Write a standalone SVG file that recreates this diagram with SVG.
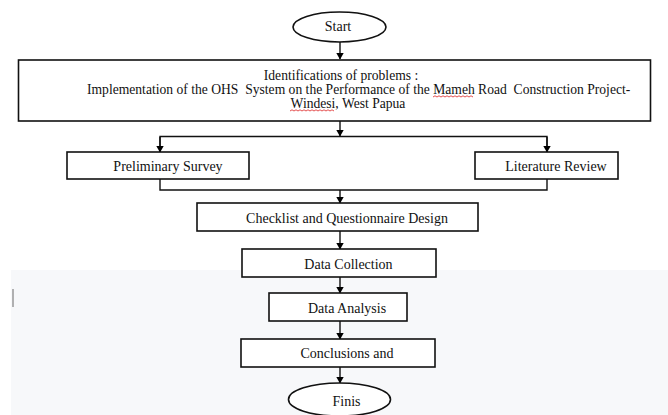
<svg xmlns="http://www.w3.org/2000/svg" width="668" height="415" viewBox="0 0 668 415">
<defs>
<marker id="ah" markerWidth="7" markerHeight="8" refX="6.5" refY="4" orient="auto" markerUnits="userSpaceOnUse">
<path d="M0,0 L7,4 L0,8 Z" fill="#000"/>
</marker>
<style>
.box{fill:#fff;stroke:#111;stroke-width:1.6}
.t{font-family:"Liberation Serif","Times New Roman",serif;font-size:14px;fill:#111;text-anchor:middle}
.t13{font-family:"Liberation Serif","Times New Roman",serif;font-size:13.6px;fill:#111;text-anchor:middle}
.c{fill:none;stroke:#111;stroke-width:1.4}
.ca{fill:none;stroke:#111;stroke-width:1.4;marker-end:url(#ah)}
.sp{fill:none;stroke:#d22;stroke-width:0.8}
</style>
</defs>
<rect width="668" height="415" fill="#fff"/>
<rect x="11" y="270" width="657" height="145" fill="#f7f8fa"/>
<line x1="13" y1="289" x2="13" y2="307" stroke="#999" stroke-width="1.5"/>

<g id="connectors">
<line class="ca" x1="340" y1="42" x2="340" y2="59"/>
<line class="ca" x1="340" y1="121" x2="340" y2="136"/>
<polyline class="c" points="160,152 160,136.5 547,136.5 547,152"/>
<line class="ca" x1="160" y1="137" x2="160" y2="152"/>
<line class="ca" x1="547" y1="137" x2="547" y2="152"/>
<polyline class="c" points="160,179 160,190 547,190 547,179"/>
<line class="ca" x1="340" y1="190" x2="340" y2="203"/>
<line class="ca" x1="340" y1="231" x2="340" y2="249"/>
<line class="ca" x1="340" y1="277" x2="340" y2="293"/>
<line class="ca" x1="340" y1="321" x2="340" y2="339"/>
<line class="ca" x1="340" y1="367" x2="340" y2="383"/>
</g>

<g id="start">
<ellipse class="box" cx="339.5" cy="27" rx="46.5" ry="15"/>
<text class="t" x="338" y="31">Start</text>
</g>

<g id="problems">
<rect class="box" x="18.5" y="60" width="632" height="61"/>
<text class="t13" x="341" y="80">Identifications of problems :</text>
<text x="87" y="94" font-family="'Liberation Serif','Times New Roman',serif" font-size="13.6" fill="#111" xml:space="preserve">Implementation of the OHS  System on the Performance of the Mameh Road  Construction Project-</text>
<text class="t13" x="348" y="108">Windesi, West Papua</text>
<path class="sp" d="M433,97 l2,-1.2 l2,1.2 l2,-1.2 l2,1.2 l2,-1.2 l2,1.2 l2,-1.2 l2,1.2 l2,-1.2 l2,1.2 l2,-1.2 l2,1.2 l2,-1.2 l2,1.2 l2,-1.2 l2,1.2 l2,-1.2 l2,1.2 l2,-1.2 l2,1.2"/>
<path class="sp" d="M290,111 l2,-1.2 l2,1.2 l2,-1.2 l2,1.2 l2,-1.2 l2,1.2 l2,-1.2 l2,1.2 l2,-1.2 l2,1.2 l2,-1.2 l2,1.2 l2,-1.2 l2,1.2 l2,-1.2 l2,1.2 l2,-1.2 l2,1.2 l2,-1.2 l2,1.2 l2,-1.2 l2,1.2"/>
</g>

<g id="survey">
<rect class="box" x="67" y="152" width="182" height="27"/>
<text class="t" x="168" y="170.5">Preliminary Survey</text>
</g>

<g id="literature">
<rect class="box" x="475" y="152" width="143" height="27"/>
<text class="t" x="556" y="170.5">Literature Review</text>
</g>

<g id="checklist">
<rect class="box" x="197" y="203" width="281" height="28"/>
<text class="t" x="347" y="223">Checklist and Questionnaire Design</text>
</g>

<g id="collection">
<rect class="box" x="242" y="249" width="194" height="28"/>
<text class="t" x="348.5" y="268.5">Data Collection</text>
</g>

<g id="analysis">
<rect class="box" x="269" y="293" width="138" height="28"/>
<text class="t" x="347" y="313">Data Analysis</text>
</g>

<g id="conclusions">
<rect class="box" x="241" y="339" width="194" height="28"/>
<text class="t" x="347" y="358">Conclusions and</text>
</g>

<g id="finis">
<ellipse class="box" cx="339.5" cy="399.5" rx="51" ry="16.5"/>
<text class="t" x="346.5" y="406">Finis</text>
</g>
</svg>
